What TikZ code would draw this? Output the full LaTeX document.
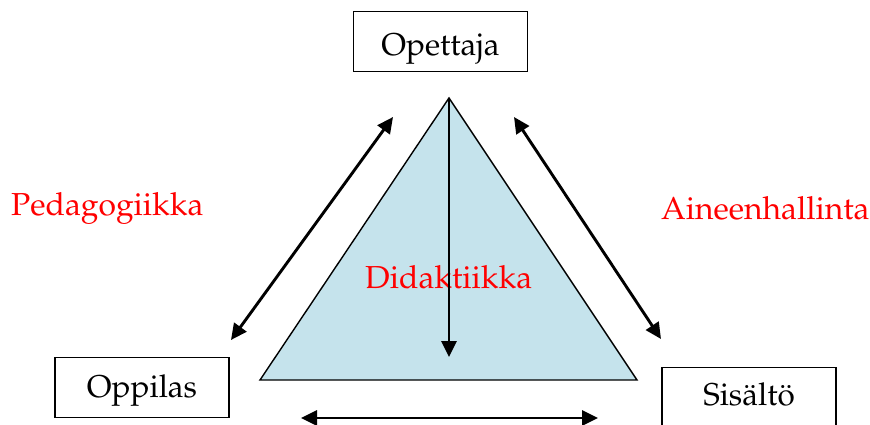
\documentclass[tikz,border=0pt]{standalone}
\usepackage[T1]{fontenc}
\usepackage{mathpazo}
\usetikzlibrary{arrows.meta}
\definecolor{trifill}{HTML}{C5E3EC}
\tikzset{
  box/.style={draw=black, line width=1.4pt, fill=white, inner sep=0pt,
    minimum width=174pt, text width=174pt, align=center,
    font=\fontsize{31.5}{36}\selectfont},
  redlabel/.style={text=red, inner sep=0pt, anchor=base west,
    font=\fontsize{31.8}{36}\selectfont},
  link/.style={line width=2.9pt,
    {Triangle[length=16pt,width=15pt]}-{Triangle[length=16pt,width=15pt]}},
  downlink/.style={line width=2.9pt, -{Triangle[length=16pt,width=15pt]}},
  tri/.style={draw=black, line width=1.4pt, fill=trifill, line join=miter}
}
\begin{document}
\begin{tikzpicture}[x=1pt, y=-1pt]
  \useasboundingbox (0,0) rectangle (870,425);

  % corners of the didactic triangle
  \coordinate (apex) at (449,98);
  \coordinate (bl) at (260,380);
  \coordinate (br) at (637,380);
  \draw[tri] (apex) -- (bl) -- (br) -- cycle;

  % the three parties
  \node[box, text height=44pt, text depth=16pt, anchor=north] (opettaja) at (440.5,11) {Opettaja};
  \node[box, text height=40pt, text depth=20pt, anchor=north] (oppilas) at (142,357) {Oppilas};
  \node[box, text height=38pt, text depth=22pt, anchor=north] (sisalto) at (749,367) {Sis\"alt\"o};

  % relation names
  \node[redlabel] (pedagogiikka) at (11,215) {Pedagogiikka};
  \node[redlabel] (aineenhallinta) at (661,219) {Aineenhallinta};
  \node[redlabel] (didaktiikka) at (365,288) {Didaktiikka};

  % free ends of the double arrows
  \coordinate (pedA) at (231,340);
  \coordinate (pedB) at (393,117);
  \coordinate (aineA) at (514,117);
  \coordinate (aineB) at (661,339);
  \coordinate (botA) at (301,418);
  \coordinate (botB) at (598,418);
  \coordinate (didEnd) at (449,357);

  \draw[link] (pedA) -- (pedB);
  \draw[link] (aineA) -- (aineB);
  \draw[link] (botA) -- (botB);
  \draw[downlink] (apex) -- (didEnd);
\end{tikzpicture}
\end{document}
